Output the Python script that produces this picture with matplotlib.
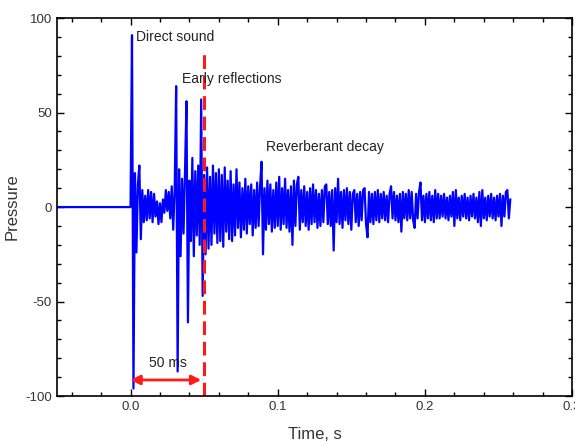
import numpy as np
import matplotlib
matplotlib.use('Agg')
import matplotlib.pyplot as plt
from matplotlib.ticker import MultipleLocator

plt.rcParams['font.family'] = ['Liberation Sans', 'DejaVu Sans']
plt.rcParams['axes.unicode_minus'] = False

start_time = -0.05
dt = 0.001
pressure = [
    0, 91, -96, 18, -24, 12, 22, -17, 9, -8,
    6, -7, 9, -6, 8, -8, 7, -5, 3, -9,
    2, -8, 4, -3, 9, -2, 8, -6, 11, -12,
    9, 64, -87, 20, -26, 15, -14, 18, 56, -61,
    14, -18, 26, -26, 19, -15, 22, -20, 57, -47,
    17, -25, 21, -22, 16, -20, 22, -14, 18, -19,
    20, -18, 17, -21, 21, -13, 14, -17, 19, -18,
    12, -15, 20, -11, 13, -16, 10, -12, 15, -14,
    11, -9, 12, -15, 9, -11, 13, -10, 11, 24,
    -25, 10, -12, 14, -9, 12, -13, 9, -11, 13,
    -10, 16, -12, 10, -9, 15, -11, 9, -13, 11,
    -20, 14, -10, 12, 16, -12, 9, -8, 11, -10,
    8, -12, 10, -9, 12, -8, 9, -11, 7, -10,
    9, -8, 11, 12, -9, 8, -10, 9, -23, 10,
    -8, 15, -9, 8, -11, 9, -7, 10, -9, 8,
    -12, 7, 9, -8, 7, -10, 8, -7, 9, 10,
    -9, -16, 8, -8, 7, -9, 8, -7, 9, -8,
    7, -6, 8, -7, 6, -8, 7, 11, -6, 8,
    -7, 6, -8, 7, -13, 8, -6, 7, -7, 9,
    -6, 8, -7, -11, 7, -6, 8, 13, -7, 6,
    -8, 7, -6, 8, -7, 6, -8, 9, -6, 7,
    -6, 6, -5, 7, -6, 5, -7, 6, -5, 8,
    -10, 9, -6, 5, -7, 6, -5, 7, -6, 5,
    -7, 6, -5, 7, -6, 5, -8, 8, -10, 9,
    -6, 5, -7, 6, -5, 7, -6, 5, -7, 6,
    -5, 7, -10, 6, -5, 8, 9, -6, 4,
]

early_time = 0.05      # end of early reflections, s
span_label = '50 ms'

x_ticks = [0.0, 0.1, 0.2, 0.3]
y_ticks = [-100, -50, 0, 50, 100]


def main():
    times = np.concatenate([[start_time], np.arange(len(pressure)) * dt])
    values = np.concatenate([[0.0], pressure])

    fig = plt.figure(figsize=(5.75, 4.42), dpi=100)
    ax = fig.add_axes([0.099, 0.104, 0.896, 0.855])

    ax.plot(times, values, color='#0000ff', lw=1.6)

    # early/late boundary and span arrow
    ax.plot([early_time, early_time], [-100, 82], color='#ff1a1a', lw=2.2,
            ls=(0, (4.5, 2.2)))
    ax.annotate('', xy=(0.0, -91.5), xytext=(early_time - 0.002, -91.5),
                arrowprops=dict(arrowstyle='<|-|>', color='#ff1a1a', lw=2,
                                mutation_scale=14, shrinkA=0, shrinkB=0))
    ax.text(0.0255, -82.5, span_label, ha='center', va='center',
            fontsize=10, color='#222222')

    ax.text(0.0035, 90, 'Direct sound', ha='left', va='center', fontsize=10, color='#222222')
    ax.text(0.035, 68, 'Early reflections', ha='left', va='center', fontsize=10, color='#222222')
    ax.text(0.092, 32, 'Reverberant decay', ha='left', va='center', fontsize=10, color='#222222')

    ax.set_xlim(-0.05, 0.3)
    ax.set_ylim(-100, 100)
    ax.set_xticks(x_ticks)
    ax.set_xticklabels(['%.1f' % v for v in x_ticks])
    ax.set_yticks(y_ticks)
    ax.xaxis.set_minor_locator(MultipleLocator(0.02))
    ax.yaxis.set_minor_locator(MultipleLocator(10))
    ax.tick_params(which='both', direction='in', top=True, right=True,
                   labelsize=9.5, labelcolor='#333333', width=1)
    ax.tick_params(which='major', length=5)
    ax.tick_params(which='minor', length=3)
    for s in ax.spines.values():
        s.set_linewidth(1.2)

    ax.set_xlabel('Time, s', fontsize=12, color='#333333', labelpad=10)
    ax.set_ylabel('Pressure', fontsize=12, color='#333333', labelpad=4)

    fig.savefig('out.png', dpi=100)


if __name__ == '__main__':
    main()
